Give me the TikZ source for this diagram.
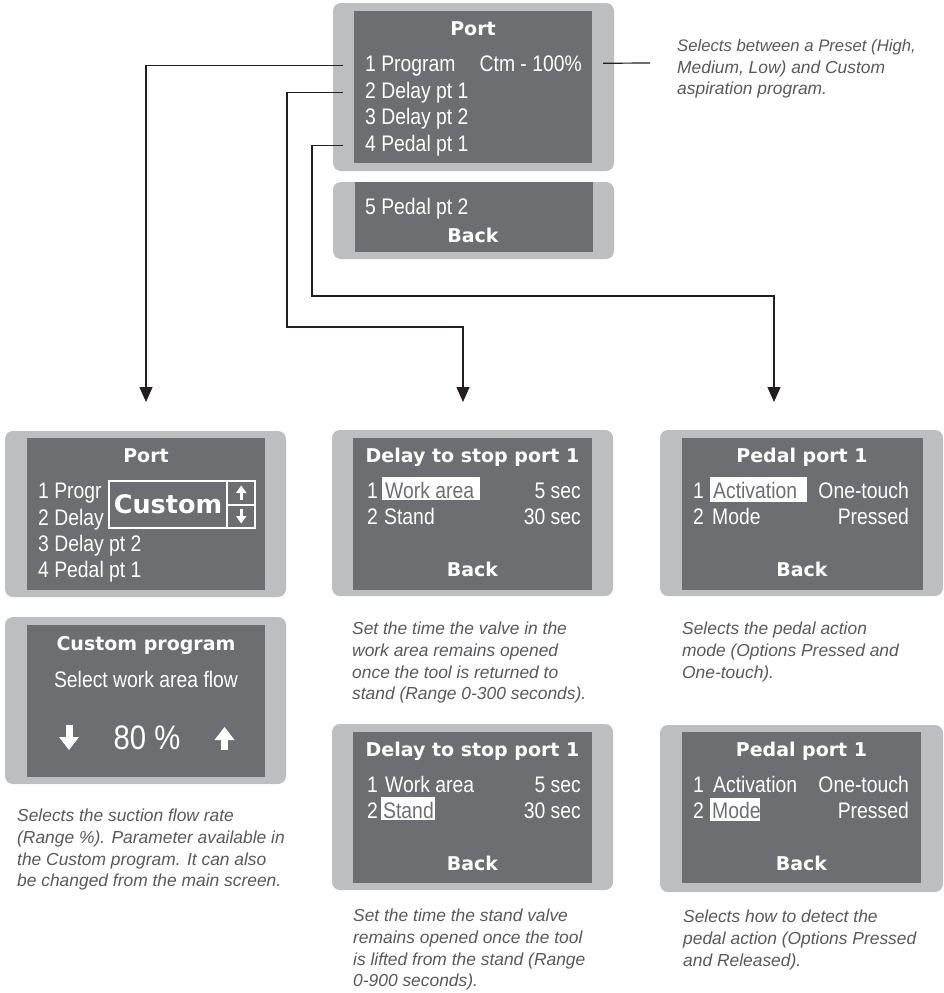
\documentclass[tikz,border=0pt]{standalone}
\usepackage{fontspec}
\setmainfont{Liberation Sans}
\newfontfamily\lcd[FakeStretch=0.86]{Liberation Sans}
\newfontfamily\lcdb{DejaVu Sans}
\newfontfamily\capf{Liberation Sans}
\usetikzlibrary{arrows.meta}
\definecolor{bezelc}{HTML}{BCBEC0}
\definecolor{lcdc}{HTML}{6D6E71}
\definecolor{capc}{HTML}{58595B}
\definecolor{linec}{HTML}{231F20}
\tikzset{
  bezel/.style={fill=bezelc, rounded corners=8pt},
  screen/.style={fill=lcdc},
  txt/.style={text=white, inner sep=0pt, anchor=base west, font=\lcd\fontsize{22.5}{22.5}\selectfont},
  rtxt/.style={txt, anchor=base east},
  hd/.style={text=white, inner sep=0pt, anchor=base, font=\lcdb\bfseries\fontsize{19}{19}\selectfont},
  hlbox/.style={fill=white},
  hltxt/.style={txt, text=lcdc},
  capt/.style={text=capc, inner sep=0pt, anchor=north west, align=left, font=\capf\itshape\fontsize{17.4}{21.7}\selectfont},
  conn/.style={draw=linec, line width=1.2pt},
  arr/.style={conn, -{Triangle[width=13pt,length=15pt]}},
  glyph/.style={fill=white},
  selbox/.style={fill=lcdc, draw=white, line width=1.3pt},
}
\begin{document}
\begin{tikzpicture}[x=1pt,y=-1pt]
\useasboundingbox[fill=white] (0,0) rectangle (944,993);

% ---------- top screen ----------
\path[bezel] (333,3) rectangle (614,171);
\path[screen] (354,11) rectangle (592,163);
\node[hd] (th) at (473,35) {Port};
\node[txt] (p1) at (365,71) {1 Program};
\node[rtxt] (pv) at (582,71) {Ctm - 100\%};
\node[txt] (p2) at (365,98) {2 Delay pt 1};
\node[txt] (p3) at (365,124) {3 Delay pt 2};
\node[txt] (p4) at (365,151) {4 Pedal pt 1};

\path[bezel] (333,182) rectangle (614,259);
\path[screen] (355,182) rectangle (593,252);
\node[txt] (p5) at (365,214) {5 Pedal pt 2};
\node[hd] (tb) at (473,242) {Back};

\node[capt] (c0) at (677,39) {\fontsize{16.7}{16.8}\selectfont Selects between a Preset (High,\\Medium, Low) and Custom\\aspiration program.};

% ---------- left screen 1 ----------
\path[bezel] (5,431) rectangle (286,597);
\path[screen] (27,438) rectangle (265,590);
\node[hd] (lh) at (146,462) {Port};
\node[txt] (l1) at (38,498) {1 Progr};
\node[txt] (l2) at (38,525) {2 Delay};
\node[txt] (l3) at (38,551) {3 Delay pt 2};
\node[txt] (l4) at (38,577) {4 Pedal pt 1};
\path[selbox] (109,481) rectangle (255,528);
\draw[white, line width=1.3pt] (227,481) -- (227,528) (227,505) -- (255,505);
\node[hd, font=\lcdb\bfseries\fontsize{25.5}{25.5}\selectfont] (cu) at (168,513) {Custom};
% small up arrow
\path[glyph] (239.5,492) rectangle (243,500);
\path[glyph] (236,493) -- (246.5,493) -- (241.2,485.5) -- cycle;
% small down arrow
\path[glyph] (239.5,509) rectangle (243,517);
\path[glyph] (236,516) -- (246.5,516) -- (241.2,523.5) -- cycle;

% ---------- left screen 2 ----------
\path[bezel] (5,617) rectangle (286,784);
\path[screen] (27,625) rectangle (265,777);
\node[hd] (ch) at (146,650) {Custom program};
\node[txt, anchor=base] (cs) at (146,687) {Select work area flow};
\node[txt, anchor=base, font=\lcd\fontsize{34}{34}\selectfont] (cv) at (147,749) {80 \%};
\path[glyph] (65.5,725) rectangle (72.5,739);
\path[glyph] (59,737) -- (79,737) -- (69,750) -- cycle;
\path[glyph] (221,739) rectangle (228,750);
\path[glyph] (214.5,740) -- (234.5,740) -- (224.5,727) -- cycle;

\node[capt] (c1) at (17,809) {Selects the suction flow rate\\(Range \%). Parameter available in\\the Custom program. It can also\\be changed from the main screen.};

% ---------- delay screen 1 ----------
\path[bezel] (332,430) rectangle (613,596);
\path[screen] (353,438) rectangle (592,590);
\node[hd] (dh) at (472.5,462) {Delay to stop port 1};
\path[hlbox] (382,477) rectangle (480,500);
\node[txt] (d1n) at (367,498) {1};
\node[hltxt] (d1) at (385,498) {Work area};
\node[rtxt] (d1v) at (581,498) {5 sec};
\node[txt] (d2n) at (367,524) {2};
\node[txt] (d2) at (384,524) {Stand};
\node[rtxt] (d2v) at (581,524) {30 sec};
\node[hd] (db) at (472.5,576) {Back};
\node[capt] (c2) at (352,622) {Set the time the valve in the\\work area remains opened\\once the tool is returned to\\stand (Range 0-300 seconds).};

% ---------- delay screen 2 ----------
\path[bezel] (332,724) rectangle (613,890);
\path[screen] (353,732) rectangle (592,883);
\node[hd] (eh) at (472.5,756) {Delay to stop port 1};
\path[hlbox] (381,797) rectangle (435,820);
\node[txt] (e1n) at (367,792) {1};
\node[txt] (e1) at (385,792) {Work area};
\node[rtxt] (e1v) at (581,792) {5 sec};
\node[txt] (e2n) at (367,818) {2};
\node[hltxt] (e2) at (383,818) {Stand};
\node[rtxt] (e2v) at (581,818) {30 sec};
\node[hd] (eb) at (472.5,870) {Back};
\node[capt] (c3) at (353,909) {Set the time the stand valve\\remains opened once the tool\\is lifted from the stand (Range\\0-900 seconds).};

% ---------- pedal screen 1 ----------
\path[bezel] (660,430) rectangle (943,596);
\path[screen] (682,438) rectangle (923,590);
\node[hd] (fh) at (802,462) {Pedal port 1};
\path[hlbox] (710,477) rectangle (807,502);
\node[txt] (f1n) at (693,498) {1};
\node[hltxt] (f1) at (713,498) {Activation};
\node[rtxt] (f1v) at (909,498) {One-touch};
\node[txt] (f2n) at (693,524) {2};
\node[txt] (f2) at (712,524) {Mode};
\node[rtxt] (f2v) at (909,524) {Pressed};
\node[hd] (fb) at (802,576) {Back};
\node[capt] (c4) at (682,622) {Selects the pedal action\\mode (Options Pressed and\\One-touch).};

% ---------- pedal screen 2 ----------
\path[bezel] (660,725) rectangle (943,892);
\path[screen] (682,732) rectangle (921,883);
\node[hd] (gh) at (801.5,756) {Pedal port 1};
\path[hlbox] (710,798) rectangle (760,821);
\node[txt] (g1n) at (693,792) {1};
\node[txt] (g1) at (713,792) {Activation};
\node[rtxt] (g1v) at (909,792) {One-touch};
\node[txt] (g2n) at (693,818) {2};
\node[hltxt] (g2) at (712,818) {Mode};
\node[rtxt] (g2v) at (909,818) {Pressed};
\node[hd] (gb) at (801.5,870) {Back};
\node[capt] (c5) at (683,910) {Selects how to detect the\\pedal action (Options Pressed\\and Released).};

% ---------- connectors ----------
\coordinate (t1) at (146,402);
\coordinate (t2) at (463,402);
\coordinate (t3) at (774,402);
\coordinate (k2) at (287,327);
\coordinate (k3) at (312,296);
\coordinate (r0) at (650,63);
\draw[arr] ([xshift=-22pt]p1.west) -| (t1);
\draw[arr] ([xshift=-22pt]p2.west) -| (k2) -| (t2);
\draw[arr] ([xshift=-22pt]p4.west) -| (k3) -| (t3);
\draw[conn] ([xshift=21pt]pv.east) -- (r0);
\end{tikzpicture}
\end{document}
